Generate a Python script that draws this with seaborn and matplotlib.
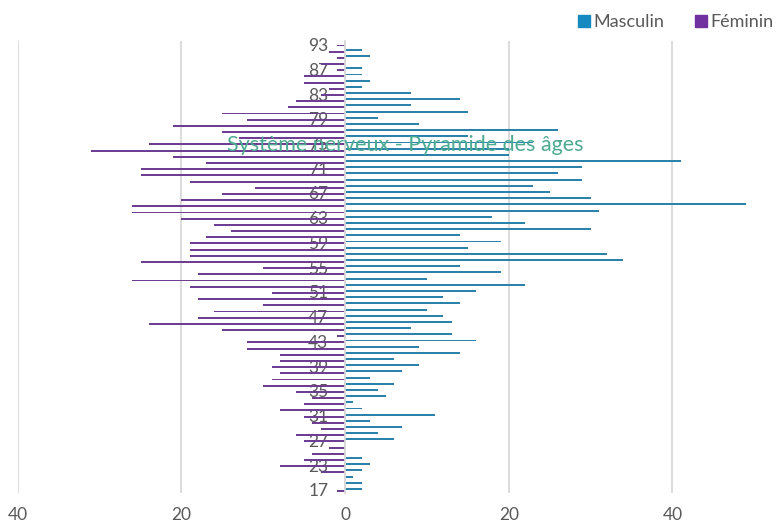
import numpy as np
import pandas as pd
import matplotlib
matplotlib.use('Agg')
import matplotlib.pyplot as plt
import seaborn as sns
from matplotlib.ticker import FuncFormatter
from matplotlib.patches import Patch

# Données (de haut en bas, comme dans le graphique)
ages = [93, 91, 89, 88, 87, 86, 85, 84, 83, 82, 81, 80, 79, 78, 77, 76, 75, 74,
        73, 72, 71, 70, 69, 68, 67, 66, 65, 64, 63, 62, 61, 60, 59, 58, 57, 56,
        55, 54, 53, 52, 51, 50, 49, 48, 47, 46, 45, 44, 43, 42, 41, 40, 39, 38,
        37, 36, 35, 34, 33, 32, 31, 30, 29, 28, 27, 26, 25, 24, 23, 22, 20, 19, 17]

masculin = [0, 2, 3, 0, 2, 2, 3, 2, 8, 14, 8, 15, 4, 9, 26, 15, 23, 20,
            20, 41, 29, 26, 29, 23, 25, 30, 49, 31, 18, 22, 30, 14, 19, 15, 32, 34,
            14, 19, 10, 22, 16, 12, 14, 10, 12, 13, 8, 13, 16, 9, 14, 6, 9, 7,
            3, 6, 4, 5, 1, 2, 11, 3, 7, 4, 6, 0, 0, 2, 3, 2, 1, 2, 2]

feminin = [1, 2, 1, 3, 1, 5, 5, 2, 3, 6, 7, 15, 12, 21, 15, 13, 24, 31,
           21, 17, 25, 25, 19, 11, 15, 20, 26, 26, 20, 16, 14, 17, 19, 19, 19, 25,
           10, 18, 26, 19, 9, 18, 10, 16, 18, 24, 15, 1, 12, 12, 8, 8, 9, 8,
           9, 10, 6, 4, 5, 8, 5, 4, 3, 6, 5, 2, 4, 5, 8, 3, 0, 0, 1]

BLUE = '#168AC0'
PURPLE = '#7030A0'
GREY = '#595959'

labels_age = [str(a) for a in ages]
df = pd.DataFrame({
    'age': labels_age * 2,
    'sexe': ['Masculin'] * len(ages) + ['Féminin'] * len(ages),
    'valeur': masculin + [-v for v in feminin],
})

sns.set_theme(style='white')
plt.rcParams['font.family'] = ['Lato', 'DejaVu Sans']

fig = plt.figure(figsize=(7.76, 5.23), dpi=100)
ax = fig.add_axes([0.023, 0.0574, 0.949, 0.8634])

sns.barplot(data=df, y='age', x='valeur', hue='sexe', order=labels_age,
            hue_order=['Masculin', 'Féminin'],
            palette={'Masculin': BLUE, 'Féminin': PURPLE},
            orient='h', width=0.62, dodge=True, errorbar=None,
            linewidth=0, ax=ax, legend=False)

ax.set_xlim(-40, 50)
ax.set_xticks([-40, -20, 0, 20, 40])
ax.xaxis.set_major_formatter(FuncFormatter(lambda v, p: f"{abs(v):.0f}"))
ax.xaxis.grid(True, color='#D9D9D9', lw=1.3)
ax.set_axisbelow(True)

for s in ['top', 'right', 'bottom']:
    ax.spines[s].set_visible(False)
ax.spines['left'].set_position(('data', 0))
ax.spines['left'].set_color('#D9D9D9')
ax.spines['left'].set_linewidth(1.3)

ax.set_yticks(range(0, len(ages), 4))
ax.set_yticklabels(labels_age[::4])
ax.tick_params(axis='y', length=0, pad=12, labelsize=12.5, labelcolor=GREY)
ax.tick_params(axis='x', length=0, pad=10, labelsize=12.5, labelcolor=GREY)
ax.set_xlabel('')
ax.set_ylabel('')

fig.text(405 / 776, 1 - 145 / 523, 'Système nerveux - Pyramide des âges',
         ha='center', va='center', fontsize=15.5, color='#4BAA91')

handles = [Patch(color=BLUE), Patch(color=PURPLE)]
fig.legend(handles, ['Masculin', 'Féminin'], loc='upper right',
           bbox_to_anchor=(1.018, 1.004), ncol=2, frameon=False, fontsize=13,
           handlelength=0.65, handleheight=0.65, handletextpad=0.2,
           columnspacing=1.7, labelcolor=GREY)

fig.savefig('out.png', dpi=100)
